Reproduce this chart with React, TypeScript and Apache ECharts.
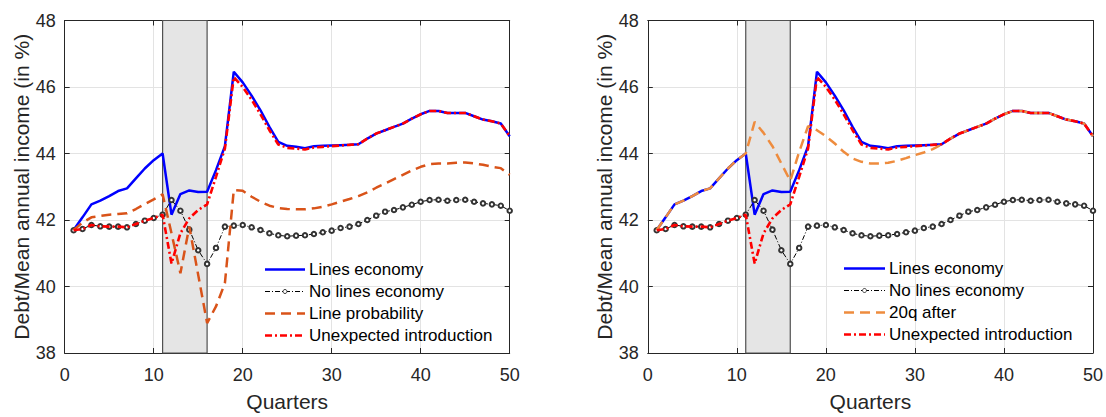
import React, { useEffect, useRef } from 'react';
import * as echarts from 'echarts';

const quarters = [1, 2, 3, 4, 5, 6, 7, 8, 9, 10, 11, 12, 13, 14, 15, 16, 17, 18, 19, 20, 21, 22, 23, 24, 25, 26, 27, 28, 29, 30, 31, 32, 33, 34, 35, 36, 37, 38, 39, 40, 41, 42, 43, 44, 45, 46, 47, 48, 49, 50];

const linesEconomy = [41.70, 42.08, 42.47, 42.58, 42.72, 42.87, 42.95, 43.25, 43.55, 43.80, 44.00, 42.16, 42.78, 42.89, 42.84, 42.85, 43.50, 44.22, 46.46, 46.14, 45.74, 45.30, 44.80, 44.35, 44.23, 44.20, 44.16, 44.22, 44.23, 44.24, 44.25, 44.26, 44.28, 44.45, 44.60, 44.70, 44.80, 44.90, 45.05, 45.18, 45.28, 45.28, 45.22, 45.22, 45.22, 45.12, 45.02, 44.97, 44.90, 44.52];

const noLinesEconomy = [41.69, 41.73, 41.85, 41.81, 41.80, 41.80, 41.78, 41.88, 41.98, 42.06, 42.16, 42.60, 42.28, 41.71, 41.09, 40.68, 41.16, 41.80, 41.83, 41.85, 41.78, 41.70, 41.60, 41.54, 41.51, 41.53, 41.54, 41.58, 41.63, 41.68, 41.76, 41.80, 41.88, 42.00, 42.13, 42.25, 42.30, 42.38, 42.46, 42.55, 42.60, 42.61, 42.58, 42.60, 42.61, 42.55, 42.50, 42.47, 42.43, 42.28];

const lineProbability = [41.70, 41.92, 42.08, 42.12, 42.16, 42.18, 42.20, 42.33, 42.48, 42.62, 42.77, 41.60, 40.40, 41.80, 40.35, 38.90, 39.40, 40.10, 42.90, 42.88, 42.70, 42.55, 42.43, 42.36, 42.33, 42.32, 42.32, 42.35, 42.40, 42.47, 42.55, 42.63, 42.72, 42.83, 42.97, 43.10, 43.23, 43.36, 43.49, 43.60, 43.68, 43.70, 43.70, 43.72, 43.73, 43.70, 43.66, 43.60, 43.56, 43.36];

const after20q = [41.70, 42.08, 42.47, 42.58, 42.72, 42.87, 42.95, 43.25, 43.55, 43.80, 44.00, 44.95, 44.62, 44.22, 43.70, 43.18, 44.05, 44.82, 44.70, 44.52, 44.30, 44.05, 43.85, 43.75, 43.70, 43.70, 43.72, 43.78, 43.86, 43.95, 44.03, 44.13, 44.27, 44.45, 44.60, 44.70, 44.80, 44.90, 45.05, 45.18, 45.28, 45.28, 45.22, 45.22, 45.22, 45.12, 45.02, 44.97, 44.90, 44.52];

const unexpectedIntroduction = [41.69, 41.73, 41.85, 41.81, 41.80, 41.80, 41.78, 41.88, 41.98, 42.06, 42.16, 40.69, 41.60, 42.05, 42.30, 42.47, 43.30, 44.15, 46.30, 46.00, 45.62, 45.18, 44.70, 44.27, 44.17, 44.15, 44.12, 44.18, 44.20, 44.22, 44.24, 44.26, 44.28, 44.45, 44.60, 44.70, 44.80, 44.90, 45.05, 45.18, 45.28, 45.28, 45.22, 45.22, 45.22, 45.12, 45.02, 44.97, 44.90, 44.52];

const crisisStart = 11;
const crisisEnd = 16;

const xTicks = { min: 0, max: 50, interval: 10 };
const yTicks = { min: 38, max: 48, interval: 2 };

const xTitle = 'Quarters';
const yTitle = 'Debt/Mean annual income (in %)';
const legendLeft = ['Lines economy', 'No lines economy', 'Line probability', 'Unexpected introduction'];
const legendRight = ['Lines economy', 'No lines economy', '20q after', 'Unexpected introduction'];

const FONT = '"Liberation Sans", Arial, Helvetica, sans-serif';
const AXIS_COLOR = '#262626';
const BLUE = '#0000ff';
const RED = '#ff0000';
const ORANGE_L = '#d95319';
const ORANGE_R = '#ee8c3e';
const DASH_DOT_RED = [7, 3, 2, 3];
const DASH_DOT_BLACK = [5, 2, 1, 2];
const DASH_ORANGE = [10, 6];

const pairs = (vals: number[]) => quarters.map((q, i) => [q, vals[i]]);

const grids = [
  { left: 64.7, top: 20.5, width: 445, height: 337 },
  { left: 647.8, top: 20.5, width: 447, height: 337 },
];

function buildAxes(p: number) {
  const tick = { show: true, inside: true, length: 5, lineStyle: { color: AXIS_COLOR, width: 1 } };
  const line = { show: true, onZero: false, lineStyle: { color: AXIS_COLOR, width: 1 } };
  const xs = [
    {
      type: 'value', gridIndex: p, position: 'bottom', ...xTicks,
      axisLine: line, axisTick: tick,
      axisLabel: { show: true, fontSize: 18, color: AXIS_COLOR, fontFamily: FONT, margin: 13 },
      splitLine: { show: true, lineStyle: { color: '#e3e3e3', width: 1 } },
      name: xTitle, nameLocation: 'middle', nameGap: 38,
      nameTextStyle: { fontSize: 21, color: AXIS_COLOR, fontFamily: FONT },
    },
    {
      type: 'value', gridIndex: p, position: 'top', ...xTicks,
      axisLine: line, axisTick: tick, axisLabel: { show: false }, splitLine: { show: false },
    },
  ];
  const ys = [
    {
      type: 'value', gridIndex: p, position: 'left', ...yTicks,
      axisLine: line, axisTick: tick,
      axisLabel: { show: true, fontSize: 18, color: AXIS_COLOR, fontFamily: FONT, margin: 9 },
      splitLine: { show: true, lineStyle: { color: '#e3e3e3', width: 1 } },
      name: yTitle, nameLocation: 'middle', nameGap: 33,
      nameTextStyle: { fontSize: 21, color: AXIS_COLOR, fontFamily: FONT },
    },
    {
      type: 'value', gridIndex: p, position: 'right', ...yTicks,
      axisLine: line, axisTick: tick, axisLabel: { show: false }, splitLine: { show: false },
    },
  ];
  return { xs, ys };
}

function buildSeries(p: number, orangeVals: number[], orangeName: string, orangeColor: string) {
  const ax = { xAxisIndex: 2 * p, yAxisIndex: 2 * p };
  return [
    {
      type: 'line', ...ax, data: [], z: 1, silent: true,
      markArea: {
        silent: true,
        itemStyle: { color: '#e5e5e5', borderColor: '#505050', borderWidth: 1.2 },
        data: [[{ xAxis: crisisStart }, { xAxis: crisisEnd }]],
      },
    },
    {
      name: 'Lines economy', type: 'line', ...ax, data: pairs(linesEconomy), z: 3,
      symbol: 'none', lineStyle: { color: BLUE, width: 2.5 }, silent: true,
    },
    {
      name: 'No lines economy', type: 'line', ...ax, data: pairs(noLinesEconomy), z: 4,
      symbol: 'emptyCircle', symbolSize: 4.5,
      itemStyle: { color: '#333', borderColor: '#222', borderWidth: 0.9 },
      lineStyle: { color: '#000', width: 1, type: DASH_DOT_BLACK }, silent: true,
    },
    {
      name: orangeName, type: 'line', ...ax, data: pairs(orangeVals), z: 5,
      symbol: 'none', lineStyle: { color: orangeColor, width: 2.5, type: DASH_ORANGE }, silent: true,
    },
    {
      name: 'Unexpected introduction', type: 'line', ...ax, data: pairs(unexpectedIntroduction), z: 6,
      symbol: 'none', lineStyle: { color: RED, width: 2.6, type: DASH_DOT_RED }, silent: true,
    },
  ];
}

function buildLegend(labels: string[], x1: number, x2: number, tx: number, ys: number[], orangeColor: string) {
  const styles = [
    { stroke: BLUE, lineWidth: 2.5 },
    { stroke: '#000', lineWidth: 1, lineDash: DASH_DOT_BLACK },
    { stroke: orangeColor, lineWidth: 2.5, lineDash: DASH_ORANGE },
    { stroke: RED, lineWidth: 2.6, lineDash: DASH_DOT_RED },
  ];
  const els: any[] = [];
  labels.forEach((label, i) => {
    els.push({ type: 'line', silent: true, z: 100, shape: { x1, y1: ys[i], x2, y2: ys[i] }, style: { ...styles[i], fill: null } });
    if (i === 1) {
      els.push({ type: 'circle', silent: true, z: 101, shape: { cx: (x1 + x2) / 2, cy: ys[i], r: 2 }, style: { fill: '#fff', stroke: '#222', lineWidth: 0.9 } });
    }
    els.push({
      type: 'text', silent: true, z: 100, x: tx, y: ys[i],
      style: { text: label, font: `17px ${FONT}`, fill: '#000', verticalAlign: 'middle', align: 'left' },
    });
  });
  return els;
}

export default function App() {
  const ref = useRef<HTMLDivElement>(null);
  useEffect(() => {
    if (!ref.current) return;
    const chart = echarts.init(ref.current, null, { renderer: 'svg' });
    const a0 = buildAxes(0);
    const a1 = buildAxes(1);
    chart.setOption({
      animation: false,
      backgroundColor: '#ffffff',
      textStyle: { fontFamily: FONT },
      grid: grids.map((g) => ({ ...g, containLabel: false })),
      xAxis: [...a0.xs, ...a1.xs],
      yAxis: [...a0.ys, ...a1.ys],
      series: [
        ...buildSeries(0, lineProbability, 'Line probability', ORANGE_L),
        ...buildSeries(1, after20q, '20q after', ORANGE_R),
      ],
      graphic: [
        ...buildLegend(legendLeft, 265, 305, 309, [269.5, 291.5, 313.5, 335.5], ORANGE_L),
        ...buildLegend(legendRight, 844, 885, 889, [268.5, 290.5, 312.5, 334.5], ORANGE_R),
      ],
    });
    return () => chart.dispose();
  }, []);
  return (
    <div
      ref={ref}
      style={{ position: 'absolute', left: 0, top: 0, width: 1106, height: 417, background: '#fff' }}
    />
  );
}
